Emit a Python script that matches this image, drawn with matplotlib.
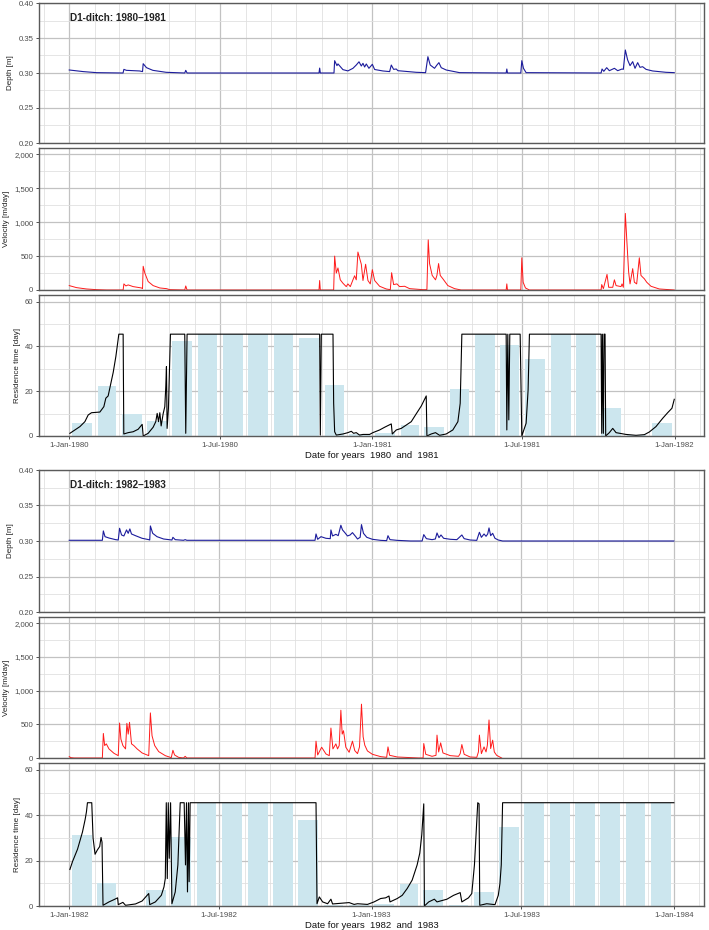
import numpy as np
import matplotlib
matplotlib.use('Agg')
import matplotlib.pyplot as plt
import matplotlib.dates as mdates
from matplotlib.ticker import MultipleLocator, FuncFormatter

plt.rcParams['font.family'] = ['Liberation Sans', 'DejaVu Sans']

# ---- data: days since 1 Jan of first year ----
start_a = '1980-01-01'
start_b = '1982-01-01'
years_a = (1980, 1981)
years_b = (1982, 1983)

depth_a_day = [0, 16.9, 33, 65, 66, 69, 85, 88.5, 89.3, 93.3, 101, 117, 139.5, 140.7, 142.3, 301.6, 302.4, 303.2,
               319.7, 320.5, 323.3, 324.5, 330.5, 336.5, 342.6, 346.6, 349.9, 352.7, 354.7, 356.7, 358.7, 361.9, 366,
               368.8, 378.8, 386.9, 388.9, 391.7, 394.9, 396.9, 419, 430.3, 433.1, 435.9, 441.1, 444, 446.4, 449.2,
               455.2, 471.3, 527.6, 528.4, 529.2, 545.3, 546.5, 548.5, 551.7, 642.2, 643.4, 645.5, 649, 652.2, 658.3,
               662.3, 667.5, 669.1, 671.5, 674.3, 677.2, 680.4, 683.2, 686.4, 689.2, 692.4, 696.5, 704.5, 720.6, 730.6]
depth_a_val = [0.3043, 0.302, 0.3005, 0.300, 0.3052, 0.3038, 0.3029, 0.302, 0.3133, 0.3076, 0.3038, 0.301, 0.300,
               0.3038, 0.300, 0.300, 0.307, 0.300, 0.300, 0.3176, 0.3105, 0.313, 0.3048, 0.303, 0.3067, 0.3114, 0.316,
               0.310, 0.3138, 0.3086, 0.3129, 0.3067, 0.3124, 0.305, 0.3029, 0.302, 0.3114, 0.3052, 0.3057, 0.3033,
               0.301, 0.3005, 0.3233, 0.3114, 0.3067, 0.3114, 0.3148, 0.3076, 0.3043, 0.3005, 0.300, 0.3057, 0.300,
               0.300, 0.3176, 0.3067, 0.3005, 0.300, 0.3057, 0.3024, 0.3076, 0.3033, 0.3067, 0.3033, 0.3057, 0.3052,
               0.3329, 0.3186, 0.3105, 0.3162, 0.3067, 0.3148, 0.3081, 0.309, 0.3052, 0.3029, 0.301, 0.3005]

vel_a_day = [0, 8.8, 20.9, 33, 45, 65.1, 66, 68.4, 71.2, 77.2, 87.3, 88.5, 89.3, 91.3, 95.3, 101.3, 109.4, 117.4,
             121.4, 139.5, 140.7, 142.3, 301.6, 302.4, 303.2, 319.3, 320.5, 322.5, 324.5, 327.3, 330.5, 334.5, 336.5,
             339.4, 342.6, 344.6, 346.6, 348.6, 352.7, 354.7, 357.9, 360.7, 363.5, 366, 368.8, 374.8, 382.8, 387.7,
             389.3, 391.7, 395.7, 398.9, 405, 411, 427, 431.9, 433.5, 435.1, 438.3, 442.3, 444, 446, 448, 451.2,
             457.2, 465.3, 473.3, 527.6, 528.4, 529.2, 545.3, 546.5, 548.1, 550.9, 555.7, 642.2, 643, 645, 649.4,
             651.4, 656.3, 658.3, 660.3, 666.3, 667.5, 669.1, 671.5, 673.5, 675.5, 677.2, 680.4, 682.4, 685.2,
             688.4, 690.4, 692.4, 694.5, 697.3, 702.5, 712.5, 730.6]
vel_a_val = [65, 35, 15, 5, 0, 0, 90, 60, 75, 50, 30, 20, 350, 250, 125, 65, 30, 20, 5, 0, 60, 0, 0, 140, 0, 0, 500,
             250, 325, 150, 100, 50, 90, 50, 150, 210, 150, 560, 380, 140, 380, 140, 90, 300, 140, 55, 15, 5, 255, 80,
             90, 50, 55, 20, 5, 5, 740, 390, 215, 150, 215, 390, 215, 165, 65, 20, 0, 0, 90, 0, 0, 475, 115, 30, 0,
             0, 80, 20, 230, 40, 40, 150, 65, 50, 90, 40, 1130, 690, 265, 90, 315, 115, 90, 475, 215, 190, 165, 115,
             55, 15, 0]

res_a_day = [0.8, 12.9, 18.9, 22.9, 26.9, 37, 41.8, 44.2, 47, 50.3, 53.1, 56.3, 59.9, 65.1, 65.9, 71.2, 77.2, 83.2,
             88.1, 89.3, 95.3, 101.3, 104.5, 106.2, 107.8, 109.4, 111, 113.4, 115.4, 116.6, 117.4, 118.2, 119.8,
             122.2, 139.5, 140.7, 142.3, 302.4, 303.2, 304.4, 318.5, 319.3, 320.5, 322.5, 330.5, 336.5, 340.6, 343.4,
             346.6, 350.6, 354.7, 362.7, 366.7, 374.8, 380.8, 388.9, 390.1, 394.9, 400.9, 407, 413, 419, 425.1,
             431.1, 431.9, 437.1, 442.3, 447.2, 455.2, 463.2, 469.3, 472.1, 474.1, 527.6, 528.4, 529.6, 530.8, 532,
             544.5, 546.5, 551.7, 554.1, 555.7, 642.2, 643, 643.8, 645, 645.8, 647, 647.8, 652.2, 656.3, 660.3,
             672.3, 684.4, 694.5, 700.5, 708.5, 716.6, 722.6, 727.8, 730.6]
res_a_val = [1.2, 4.2, 6.4, 9.4, 10.4, 10.7, 13.1, 16.9, 17.9, 23.6, 28.4, 35.5, 45.5, 45.5, 0.9, 1.5, 1.9, 3, 5.2,
             0, 1.2, 3.9, 6.4, 10.1, 6.4, 10.4, 4.5, 9.9, 13.1, 22, 31, 3.4, 12.4, 45.5, 45.5, 1.2, 45.5, 45.5, 0.4,
             45.5, 45.5, 14.6, 1.9, 0.4, 0.9, 1.5, 2.1, 1.2, 1.5, 0.4, 0.7, 0.7, 1.5, 2.7, 3.9, 5.4, 0.9, 2.7, 3.4,
             4.9, 6.4, 9.9, 13.4, 17.9, 0, 0.9, 1.5, 0.3, 0.9, 2.7, 6.4, 14.6, 45.5, 45.5, 2.7, 45.5, 7.2, 45.5, 45.5,
             0, 5.7, 20.6, 45.5, 45.5, 1.2, 45.5, 1.2, 45.5, 45.5, 0, 1.5, 3.4, 1.5, 0.7, 0.3, 0.6, 1.8, 4.2, 7.9,
             10.4, 12.4, 16.4]

bars_a = [6, 22.4, 9.8, 6.6, 42.3, 45.5, 45.5, 45.5, 45.5, 44, 22.7, 1.0,
          1.5, 4.9, 4.2, 21.2, 45.5, 40.7, 34.3, 45.5, 45.5, 12.5, 0.5, 6]

depth_b_day = [0, 40, 41.2, 43.2, 48, 56, 59.2, 60.8, 63.2, 66, 69.2, 71.2, 73.2, 75.2, 80, 88, 96, 97.2, 98, 100.8,
               106, 114, 124, 125.2, 128, 138, 140, 142, 296.8, 298, 300, 304, 310, 315.2, 316, 318, 322, 324.8,
               326.4, 328, 330, 332.8, 336, 339.2, 342, 346, 348.1, 351.3, 352.9, 355.3, 359.3, 366.1, 376.1, 383.3,
               384.9, 387.3, 396.1, 412.1, 426.1, 428.1, 431.3, 438.1, 442.1, 444.1, 446.5, 448.9, 452.1, 460.1,
               468.1, 474.1, 476.9, 484.1, 492.1, 495.3, 497.7, 500.9, 503.3, 505.3, 506.9, 508.9, 511.3, 514.1,
               518.1, 523.3, 730.1]
depth_b_val = [0.301, 0.301, 0.3142, 0.3061, 0.3042, 0.3019, 0.3014, 0.3179, 0.3085, 0.3071, 0.3156, 0.3108, 0.317,
               0.3099, 0.3075, 0.3038, 0.3019, 0.3014, 0.3212, 0.3108, 0.3061, 0.3028, 0.3014, 0.3052, 0.3019, 0.301,
               0.3019, 0.301, 0.301, 0.3099, 0.3024, 0.3061, 0.3038, 0.3033, 0.3156, 0.3071, 0.3094, 0.3075, 0.3146,
               0.3222, 0.3156, 0.3118, 0.3071, 0.3085, 0.3118, 0.3061, 0.3028, 0.3052, 0.3231, 0.3108, 0.3052,
               0.3024, 0.3009, 0.3005, 0.3075, 0.3019, 0.3009, 0.300, 0.300, 0.309, 0.3033, 0.3019, 0.3028, 0.3113,
               0.3047, 0.3085, 0.3038, 0.3024, 0.3019, 0.3085, 0.3033, 0.3014, 0.3009, 0.3123, 0.3052, 0.3099,
               0.3066, 0.3099, 0.3184, 0.3075, 0.3108, 0.3038, 0.3014, 0.300, 0.300]

vel_b_day = [0, 2, 6, 40, 41.2, 42.8, 44.8, 48, 54, 59.2, 60.8, 62.4, 64.8, 68, 69.6, 71.2, 72.8, 75.2, 78, 82, 88,
             96, 98, 100, 103.2, 108, 116, 123.2, 125.2, 127.2, 132, 138, 140, 142, 296.8, 298, 300, 304.8, 310, 314,
             316, 318.4, 320.8, 322, 324, 326, 328, 329.6, 331.2, 334, 338, 342, 344.8, 348.1, 350.5, 352.9, 354.9,
             356.9, 360.1, 366.1, 376.1, 383.3, 384.9, 386.9, 396.1, 422.1, 427.3, 428.1, 430.5, 438.1, 442.9, 444.1,
             446.1, 448.5, 451.3, 460.1, 470.1, 472.1, 474.1, 476.9, 484.1, 492.1, 494.1, 495.3, 497.7, 500.9,
             503.3, 504.9, 506.9, 508.9, 511.3, 513.3, 516.1, 522.1]
vel_b_val = [20, 5, 0, 0, 365, 185, 210, 135, 70, 35, 520, 280, 185, 135, 515, 355, 530, 210, 185, 135, 75, 35, 670,
             330, 185, 95, 35, 5, 115, 45, 10, 0, 25, 0, 0, 250, 45, 160, 60, 35, 445, 135, 185, 210, 135, 185, 710,
             355, 405, 160, 85, 250, 110, 65, 165, 800, 315, 190, 105, 55, 20, 10, 165, 40, 15, 0, 0, 215, 55, 25, 40,
             340, 90, 225, 75, 35, 25, 65, 200, 55, 15, 10, 90, 340, 65, 165, 90, 190, 565, 140, 265, 90, 40, 0]

res_b_day = [0.8, 4, 10, 16, 19.2, 20.8, 22, 27.2, 28.8, 31.2, 34, 36.8, 38.4, 39.6, 40.8, 48, 54, 58.4, 59.2, 64.8,
             68, 80, 88, 96, 97.2, 104, 111.2, 114.4, 116, 117.2, 118.4, 119.6, 120.8, 122.4, 124, 128, 131.2, 134,
             138.8, 140.4, 141.6, 142.8, 144, 144.8, 146, 298, 299.2, 302, 306, 312, 316, 318, 328, 338, 344, 348.1,
             360.1, 368.1, 376.1, 382.1, 386.1, 387.3, 396.1, 402.1, 408.1, 414.1, 420.1, 423.3, 425.7, 428.1, 428.9,
             434.1, 440.9, 444.1, 456.1, 464.1, 472.1, 474.1, 482.1, 486.1, 489.3, 492.1, 493.3, 494.9, 495.7, 504.1,
             514.1, 518.1, 520.1, 521.7, 523.3, 730.1]
res_b_val = [16.1, 19.6, 25, 32.6, 38.1, 41.5, 45.5, 45.5, 29.9, 22.8, 24.7, 26.2, 30.2, 28.1, 0.3, 1.8, 2.8, 3.6,
             0.6, 1.6, 0.3, 0.9, 2.2, 5.5, 0.6, 1.8, 4.7, 8.4, 12.1, 45.5, 12.1, 45.5, 21, 45.5, 1, 6.2, 18.1, 45.5,
             45.5, 18.1, 45.5, 6.2, 45.5, 10.7, 45.5, 45.5, 1, 4, 1.8, 1, 3, 0.9, 1.2, 1.5, 0.7, 1, 0.7, 1.8, 3.3, 3.6,
             4.4, 1.8, 3.3, 4.7, 7.7, 11.4, 18.1, 23.3, 31.4, 45, 0, 1.8, 3, 1.8, 3, 4.7, 5.9, 1.8, 3.6, 5.5, 18.1,
             37.3, 45.5, 45, 0.3, 1, 0.6, 4.7, 9.9, 18.1, 45.5, 45.5]

bars_b = [31.4, 10.2, 0, 7, 30.2, 45.5, 45.5, 45.5, 45.5, 37.8, 0.5, 0.5,
          1, 9.9, 7, 0.5, 6.2, 35, 45.5, 45.5, 45.5, 45.5, 45.5, 45.5]

# ---- layout (pixel rows of each panel) ----
W, H = 709, 930
LEFT, RIGHT = 39, 704
rows_a = [(3, 143), (148, 290), (295, 436)]
rows_b = [(470, 612), (617, 758), (763, 906)]

MAJ = '#c2c2c2'
MIN = '#e0e0e0'
TICKC = '#4d4d4d'


def to_dates(start, days):
    base = np.datetime64(start, 'm')
    return base + (np.asarray(days) * 24 * 60).astype('timedelta64[m]')


def date_label(x, pos):
    d = mdates.num2date(x)
    return f"{d.day}-{d:%b-%Y}"


def style(ax, x0, x1, ylim, major, minor, fmt=None):
    ax.set_xlim(x0, x1)
    ax.set_ylim(*ylim)
    ax.xaxis.set_major_locator(mdates.MonthLocator(bymonth=[1, 7]))
    ax.xaxis.set_minor_locator(mdates.MonthLocator())
    ax.xaxis.set_major_formatter(FuncFormatter(date_label))
    ax.yaxis.set_major_locator(MultipleLocator(major))
    ax.yaxis.set_minor_locator(MultipleLocator(minor))
    if fmt:
        ax.yaxis.set_major_formatter(FuncFormatter(fmt))
    ax.grid(True, which='major', color=MAJ, lw=0.9)
    ax.grid(True, which='minor', color=MIN, lw=0.6)
    ax.set_axisbelow(True)
    ax.tick_params(which='major', length=2.5, width=0.6, color='#333333', labelsize=5.6,
                   labelcolor=TICKC, pad=1.5)
    ax.tick_params(which='minor', length=0)
    for s in ax.spines.values():
        s.set_color('#5a5a5a')
        s.set_linewidth(1.0)


def make_group(fig, rows, start, years, d_day, d_val, v_day, v_val, r_day, r_val, bars):
    t0 = np.datetime64(start, 'D')
    t1 = t0 + np.timedelta64(730, 'D')
    pad = np.timedelta64(36 * 24 + 12, 'h')
    x0 = mdates.date2num(t0 - pad)
    x1 = mdates.date2num(t1 + pad)
    axes = []
    for top, bot in rows:
        ax = fig.add_axes([LEFT / W, 1 - bot / H, (RIGHT - LEFT) / W, (bot - top) / H])
        axes.append(ax)
    a1, a2, a3 = axes

    a1.plot(to_dates(start, d_day), d_val, color='#1c1c9c', lw=0.8)
    style(a1, x0, x1, (0.2, 0.4), 0.05, 0.025, lambda v, p: f"{v:.2f}")
    a1.set_ylabel('Depth [m]', fontsize=5.8, color='#222222', labelpad=3)
    a1.text(0.047, 0.87, f"D1-ditch: {years[0]}\u2013{years[1]}", transform=a1.transAxes,
            fontsize=7.2, fontweight='bold', color='#222222', va='baseline', ha='left')

    a2.plot(to_dates(start, v_day), v_val, color='#ff1a1a', lw=0.7)
    style(a2, x0, x1, (0, 2095), 500, 250, lambda v, p: f"{v:,.0f}")
    a2.set_ylabel('Velocity [m/day]', fontsize=5.8, color='#222222', labelpad=3)

    months = np.arange(np.datetime64(f"{years[0]}-01"), np.datetime64(f"{years[1] + 1}-01"),
                       dtype='datetime64[M]')
    m_start = months.astype('datetime64[D]')
    m_len = ((months + 1).astype('datetime64[D]') - m_start).astype(float)
    centers = m_start.astype('datetime64[h]') + (m_len * 12).astype('timedelta64[h]')
    a3.bar(mdates.date2num(centers), bars, width=m_len * 0.78, color='#cce6ee', zorder=1.5)
    a3.plot(to_dates(start, r_day), r_val, color='black', lw=0.8, zorder=2)
    style(a3, x0, x1, (0, 63), 20, 10, lambda v, p: f"{v:.0f}")
    a3.set_ylabel('Residence time [day]', fontsize=5.8, color='#222222', labelpad=3)
    a3.set_xlabel(f"Date for years  {years[0]}  and  {years[1]}", fontsize=6.8,
                  color='#111111', labelpad=1.5)

    for ax in (a1, a2):
        ax.tick_params(axis='x', which='both', labelbottom=False, length=0)
    return axes


fig = plt.figure(figsize=(W / 100, H / 100), dpi=100)
make_group(fig, rows_a, start_a, years_a, depth_a_day, depth_a_val, vel_a_day, vel_a_val,
           res_a_day, res_a_val, bars_a)
make_group(fig, rows_b, start_b, years_b, depth_b_day, depth_b_val, vel_b_day, vel_b_val,
           res_b_day, res_b_val, bars_b)

fig.savefig('out.png', dpi=100)
